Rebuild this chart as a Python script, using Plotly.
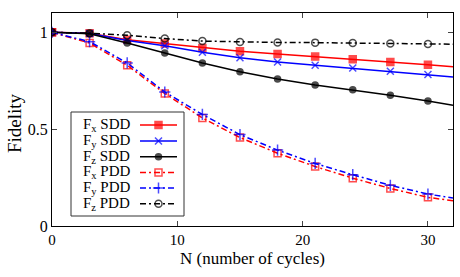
import plotly.graph_objects as go

# ---------------- data ----------------
N = [0, 3, 6, 9, 12, 15, 18, 21, 24, 27, 30, 32]

fx_sdd = [1.0, 0.995, 0.962, 0.942, 0.919, 0.902, 0.888, 0.875, 0.861, 0.847, 0.833, 0.823]
fy_sdd = [1.0, 0.994, 0.958, 0.931, 0.897, 0.869, 0.847, 0.830, 0.816, 0.799, 0.782, 0.770]
fz_sdd = [1.0, 0.993, 0.945, 0.893, 0.842, 0.797, 0.759, 0.728, 0.703, 0.675, 0.646, 0.624]
fx_pdd = [1.0, 0.945, 0.830, 0.684, 0.558, 0.457, 0.376, 0.307, 0.247, 0.194, 0.148, 0.130]
fy_pdd = [1.0, 0.952, 0.842, 0.692, 0.576, 0.472, 0.392, 0.323, 0.265, 0.210, 0.165, 0.144]
fz_pdd = [1.0, 0.996, 0.985, 0.968, 0.955, 0.950, 0.948, 0.947, 0.945, 0.943, 0.940, 0.939]

x_ticks = [0, 10, 20, 30]
y_ticks = [0, 0.5, 1]
y_tick_labels = ["0", "0.5", "1"]

x_title = "N (number of cycles)"
y_title = "Fidelity"

names = ["F<sub>x</sub> SDD", "F<sub>y</sub> SDD", "F<sub>z</sub> SDD",
         "F<sub>x</sub> PDD", "F<sub>y</sub> PDD", "F<sub>z</sub> PDD"]
series = [fx_sdd, fy_sdd, fz_sdd, fx_pdd, fy_pdd, fz_pdd]

# ---------------- styles ----------------
DD = "6px,3px,2px,3px"
styles = [
    dict(color="#ff0000", dash="solid", symbol="square", size=7),
    dict(color="#0000ff", dash="solid", symbol="x-thin-open", size=7),
    dict(color="#000000", dash="solid", symbol="circle", size=6),
    dict(color="#ff0000", dash=DD, symbol="square-open", size=7),
    dict(color="#0000ff", dash=DD, symbol="cross-thin-open", size=8),
    dict(color="#000000", dash=DD, symbol="circle-open", size=7),
]

FONT = "Liberation Serif"
fig = go.Figure()

# marker visible at every data point except the line's clipped end at N=32
msizes = lambda s: [s if n <= 30 else 0 for n in N]

for y, st, nm in zip(series, styles, names):
    fig.add_trace(go.Scatter(
        x=N, y=y, mode="lines+markers", name=nm, showlegend=False,
        line=dict(color=st["color"], width=1.5, dash=st["dash"]),
        marker=dict(symbol=st["symbol"], size=msizes(st["size"]), color=st["color"],
                    line=dict(color=st["color"], width=1.5)),
        cliponaxis=True,
    ))

# ------------- custom gnuplot-style legend (overlay pixel axes) -------------
L, R, T, B = 52, 453, 13, 226
row_y = [125, 141, 156.7, 172.4, 188, 203.7]
line_x0, line_x1, mark_x, text_x = 140, 177, 158.5, 81
for ry, st, nm in zip(row_y, styles, names):
    fig.add_trace(go.Scatter(
        x=[line_x0, mark_x, line_x1], y=[ry, ry, ry], xaxis="x2", yaxis="y2",
        mode="lines+markers", showlegend=False, hoverinfo="skip",
        line=dict(color=st["color"], width=1.5, dash=st["dash"]),
        marker=dict(symbol=st["symbol"], size=[0, st["size"], 0], color=st["color"],
                    line=dict(color=st["color"], width=1.5)),
    ))
    fig.add_annotation(x=text_x, y=ry, xref="x2", yref="y2", text=nm, showarrow=False,
                       xanchor="left", yanchor="middle",
                       font=dict(family=FONT, size=15, color="black"))

fig.add_shape(type="rect", xref="x2", yref="y2", x0=71, x1=184, y0=112, y1=216,
              line=dict(color="#333333", width=1), fillcolor="white", layer="below")

# axis titles (positioned like the gnuplot original), in paper coordinates
px2paper_x = lambda px: (px - L) / (R - L)
px2paper_y = lambda py: (B - py) / (B - T)
fig.add_annotation(x=px2paper_x(252), y=px2paper_y(258), xref="paper", yref="paper",
                   text=x_title, showarrow=False, xanchor="center", yanchor="middle",
                   font=dict(family=FONT, size=17, color="black"))
fig.add_annotation(x=px2paper_x(14), y=px2paper_y(123), xref="paper", yref="paper",
                   text=y_title, textangle=-90, showarrow=False,
                   xanchor="center", yanchor="middle",
                   font=dict(family=FONT, size=19, color="black"))

fig.update_layout(
    width=460, height=277,
    margin=dict(l=L, r=460 - R, t=T, b=277 - B),
    paper_bgcolor="white", plot_bgcolor="white",
    font=dict(family=FONT, size=16, color="black"),
    xaxis=dict(range=[0, 32], tickvals=x_ticks, ticks="inside", ticklen=5,
               showgrid=False, zeroline=False, showline=True, linecolor="black",
               linewidth=1, mirror="ticks", automargin=False,
               tickfont=dict(family=FONT, size=15)),
    yaxis=dict(range=[0, 1.1], tickvals=y_ticks, ticktext=y_tick_labels,
               ticks="inside", ticklen=5, automargin=False,
               showgrid=False, zeroline=False, showline=True, linecolor="black",
               linewidth=1, mirror="ticks",
               tickfont=dict(family=FONT, size=16)),
    xaxis2=dict(range=[L, R], overlaying="x", visible=False, fixedrange=True),
    yaxis2=dict(range=[B, T], overlaying="y", visible=False, fixedrange=True),
    showlegend=False,
)

fig.write_html("out.html", config={"displayModeBar": False},
               post_script="document.body.style.margin='0px';")
